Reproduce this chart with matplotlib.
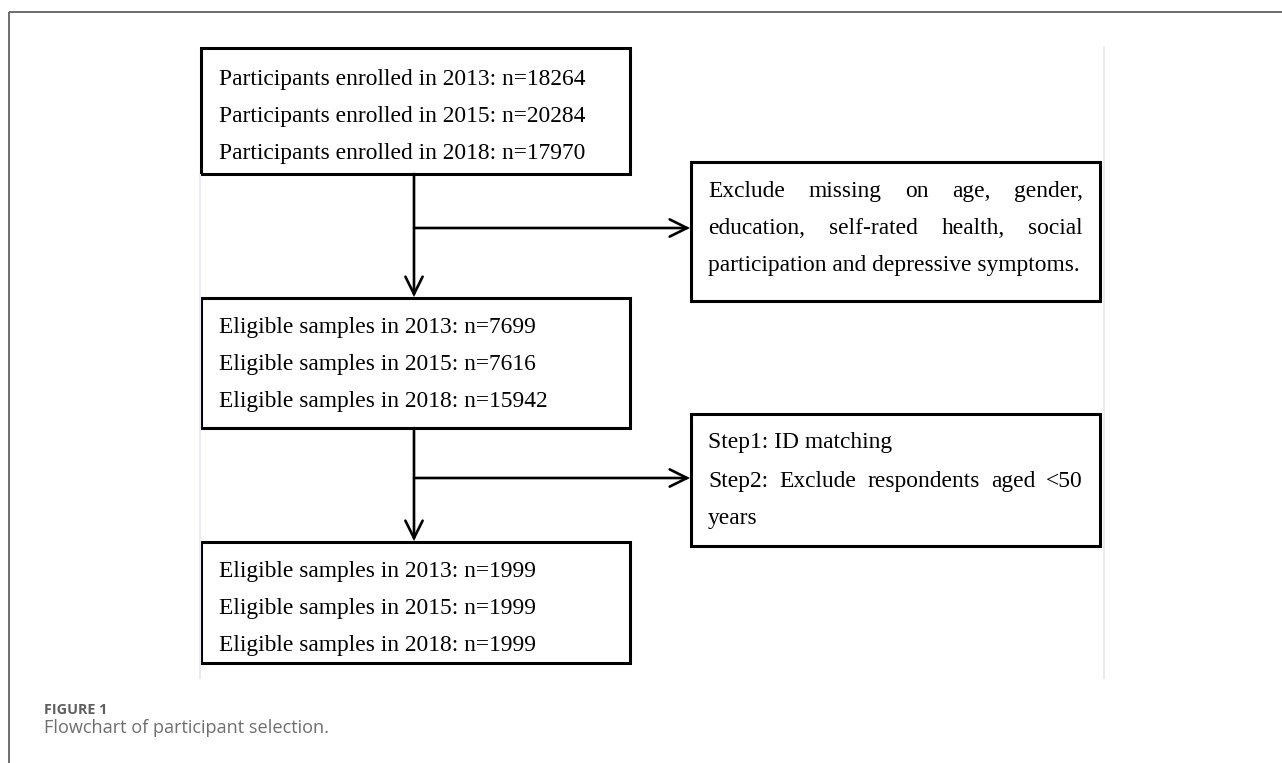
import matplotlib
matplotlib.use("Agg")
import matplotlib.pyplot as plt
from matplotlib.patches import Rectangle

# ---------------- content ----------------
box1_lines = ["Participants enrolled in 2013: n=18264",
              "Participants enrolled in 2015: n=20284",
              "Participants enrolled in 2018: n=17970"]
box2_lines = ["Eligible samples in 2013: n=7699",
              "Eligible samples in 2015: n=7616",
              "Eligible samples in 2018: n=15942"]
box3_lines = ["Eligible samples in 2013: n=1999",
              "Eligible samples in 2015: n=1999",
              "Eligible samples in 2018: n=1999"]
excl1_lines = ["Exclude missing on age, gender,",
               "education, self-rated health, social",
               "participation and depressive symptoms."]
excl1_justify = [True, True, False]
excl2_lines = ["Step1: ID matching",
               "Step2: Exclude respondents aged <50",
               "years"]
excl2_justify = [False, True, False]
caption_label = "FIGURE 1"
caption_text = "Flowchart of participant selection."

# ---------------- figure ----------------
W, H = 1282, 763
fig = plt.figure(figsize=(W / 100, H / 100), dpi=100)
ax = fig.add_axes([0, 0, 1, 1])
ax.set_xlim(0, W)
ax.set_ylim(H, 0)
ax.axis("off")
fig.canvas.draw()
renderer = fig.canvas.get_renderer()

SERIF = "Liberation Serif"


def px_width(s, size, family, weight="normal"):
    t = ax.text(0, 0, s, fontsize=size, family=family, weight=weight)
    bb = t.get_window_extent(renderer=renderer)
    t.remove()
    return bb.width


# fit font size to the reference width of the first line (219 -> 587 px)
ref_w = px_width(box1_lines[0], 10, SERIF)
FS = 10 * 368 / ref_w

# outer frame (top and left rules)
ax.plot([9, W], [12, 12], color="#555555", lw=1.2, solid_capstyle="butt")
ax.plot([9, 9], [12, H], color="#555555", lw=1.2, solid_capstyle="butt")

# faint panel edges of the embedded image
ax.plot([199.5, 199.5], [175, 678], color="#e8ecf2", lw=1.5)
ax.plot([1104, 1104], [47, 678], color="#e8ecf2", lw=1.5)

BOX_LW = 2.2


def box(x0, y0, x1, y1):
    ax.add_patch(Rectangle((x0, y0), x1 - x0, y1 - y0, fill=False,
                           edgecolor="black", lw=BOX_LW, joinstyle="miter"))


def lines_left(lines, x, baselines):
    for s, yb in zip(lines, baselines):
        ax.text(x, yb, s, fontsize=FS, family=SERIF, va="baseline",
                ha="left", color="black")


def lines_justified(lines, flags, x0, x1, baselines):
    for s, j, yb in zip(lines, flags, baselines):
        if not j:
            ax.text(x0, yb, s, fontsize=FS, family=SERIF, va="baseline",
                    ha="left", color="black")
            continue
        words = s.split(" ")
        widths = [px_width(w, FS, SERIF) for w in words]
        gap = (x1 - x0 - sum(widths)) / (len(words) - 1)
        x = x0
        for w, wd in zip(words, widths):
            ax.text(x, yb, w, fontsize=FS, family=SERIF, va="baseline",
                    ha="left", color="black")
            x += wd + gap


# left column boxes
box(201, 48, 630, 174)
lines_left(box1_lines, 219, [85, 122, 159])
box(201, 298, 630, 428)
lines_left(box2_lines, 219, [333, 370, 407])
box(201, 542, 630, 663)
lines_left(box3_lines, 219, [577, 614, 651])

# right column boxes
box(691, 162, 1100, 301)
lines_justified(excl1_lines, excl1_justify, 708, 1083, [197, 234, 271])
box(691, 414, 1100, 546)
lines_justified(excl2_lines, excl2_justify, 708, 1083, [448, 487, 524])

# connectors
ARW = dict(arrowstyle="->,head_length=1.25,head_width=0.62", color="black",
           lw=1.9, shrinkA=0, shrinkB=0, joinstyle="miter")
for ytop, ybot, yh in [(174, 298, 228), (428, 542, 478)]:
    ax.annotate("", xy=(414, ybot - 1), xytext=(414, ytop), arrowprops=ARW)
    ax.annotate("", xy=(690, yh), xytext=(414, yh), arrowprops=ARW)

# caption
SANS = "Open Sans"
cw = px_width(caption_label, 10, SANS, "bold")
cfs = 10 * 63 / cw
ax.text(44, 714, caption_label, fontsize=cfs, family=SANS, weight="bold",
        color="#5f5f5f", va="baseline", ha="left")
tw = px_width(caption_text, 10, SANS)
tfs = 10 * 286 / tw
ax.text(44, 733, caption_text, fontsize=tfs, family=SANS, color="#6e6e6e",
        va="baseline", ha="left")

fig.savefig("out.png", dpi=100)
